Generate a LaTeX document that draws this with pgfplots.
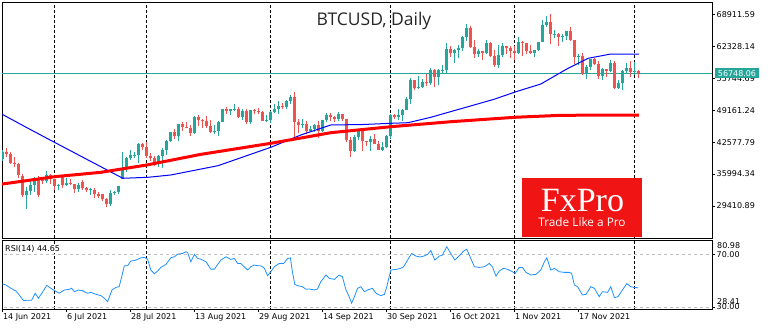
\documentclass[border=0pt]{standalone}
\usepackage{pgfplots}
\pgfplotsset{compat=1.18}
\usepackage{pgfplotstable}
\usepackage{fontspec}
\setmainfont{DejaVu Sans}
\newfontfamily\titlefont{Open Sans}
\newfontfamily\logoserif{Liberation Serif}
\newfontfamily\logosans{Open Sans}
\definecolor{bull}{RGB}{38,166,154}
\definecolor{bear}{RGB}{239,83,80}
\definecolor{maBlue}{RGB}{0,0,255}
\definecolor{maRed}{RGB}{255,0,0}
\definecolor{rsiBlue}{RGB}{30,144,255}
\definecolor{lvlGrey}{RGB}{190,190,190}
\definecolor{logoRed}{RGB}{240,20,20}
\definecolor{priceTeal}{RGB}{38,166,154}

\pgfplotstableread{
i O H L C
0 39000 41000 38700 40500
1 40500 41300 39500 40150
2 40150 40500 38100 38350
3 38350 39500 37400 38100
4 38100 38200 35100 35800
5 35600 36000 31300 31600
6 31600 33300 28800 32500
7 32500 34800 31700 33700
8 33700 35300 32300 34700
9 34700 35500 31300 31600
10 34700 35300 33900 34500
11 34500 36600 34200 35900
12 35900 36100 34000 35000
13 35000 35000 32700 33500
14 33500 33900 32700 33800
15 35300 35300 33100 33700
16 33700 35100 33500 34200
17 34200 35000 33800 33900
18 33900 33900 32100 32900
19 32900 34100 32300 33800
20 34300 34700 32700 33100
21 33100 33300 32200 32700
22 32700 33100 31600 32800
23 32800 33200 31100 31900
24 31900 32300 31000 31400
25 31800 31900 30400 30800
26 30800 31000 29300 29800
27 29800 32800 29500 32100
28 32100 32600 31700 32300
29 32300 33600 31900 33600
30 35000 40500 35000 37300
31 37300 39500 36400 39400
32 39400 40900 38800 40000
33 39900 40600 39200 40000
34 40000 42300 38300 42200
35 42200 42400 41000 41500
36 41500 42600 39400 39800
37 39800 40400 38700 39200
38 39200 39700 37600 38200
39 38200 39900 37500 39700
40 39700 41300 37300 40900
41 40900 43000 39900 42800
42 42800 44700 42500 44600
43 44600 45300 43300 43800
44 43800 46400 42900 46300
45 46300 46700 44900 45600
46 45600 46800 45400 45550
47 45550 46200 43800 44400
48 44400 47900 44200 47800
49 47800 48100 45900 47100
50 47100 47400 45500 47000
51 47000 47900 45500 45900
52 45900 47200 44400 44700
53 44700 46000 44200 44900
54 44900 47000 43900 46800
55 46800 49300 46700 49300
56 49300 49800 48300 48900
57 48900 49500 48100 49300
58 49300 50500 49000 49500
59 49500 49900 47600 47700
60 47700 49300 47100 48900
61 48900 49300 46300 46800
62 46800 49200 46400 49100
63 49100 49300 48300 48900
64 48900 49600 48300 48800
65 48800 48900 46900 47000
66 47000 48200 46700 47100
67 47100 49000 46600 48800
68 48800 50400 48600 49300
69 49300 51000 48400 50000
70 50000 50600 49500 49900
71 49900 51300 49500 51000
72 51000 52300 50500 51800
73 51900 52950 43000 46700
74 46700 47400 44400 46100
75 46100 47400 45500 46400
76 46400 47000 44200 44800
77 44800 45900 44800 45200
78 45200 46400 44700 46100
79 46100 46900 43400 44900
80 44900 47200 44700 47100
81 47100 48500 46700 48100
82 48100 48500 47000 47800
83 47800 48000 46800 47300
84 47300 48800 47000 48300
85 48300 48400 46900 47300
86 47300 47300 42500 43000
87 43000 43600 39600 40700
88 40700 44000 40600 43600
89 43600 44900 43100 44900
90 44900 45000 40700 42800
91 42800 42900 41700 42700
92 42700 43900 40800 43200
93 43200 44300 42200 42200
94 42200 42800 40900 41000
95 41000 42600 40800 41500
96 41500 44100 41400 43800
97 43800 48400 43300 48100
98 48100 48400 47400 47700
99 47700 49300 47100 48200
100 48200 49500 46900 49200
101 49200 51900 49100 51500
102 51500 55700 50400 55300
103 55300 55300 53400 53800
104 53800 56100 53600 54000
105 54000 55500 53700 55000
106 55000 56600 54100 54700
107 54700 57800 54400 57500
108 57500 57700 53900 56000
109 56000 57600 54400 57400
110 57350 58500 56800 57400
111 57400 62900 56900 61700
112 61700 62300 60200 60900
113 60900 61700 58900 61500
114 61500 62600 60000 62000
115 62000 64500 61300 64300
116 64300 67000 63500 66000
117 66000 66600 62000 62200
118 62200 63700 60000 60700
119 60700 61700 60100 61300
120 61300 61400 59600 60900
121 60900 63700 60700 63100
122 63100 63300 60100 60300
123 60300 61500 58000 58500
124 58500 62500 57800 60600
125 60600 62900 60200 62300
126 62300 62300 60700 61900
127 61900 62400 59900 61300
128 61300 62400 59400 61000
129 61000 64300 60700 63200
130 63200 63500 60400 62900
131 62900 63100 60700 61400
132 61400 62600 60800 61000
133 61000 61500 60100 61500
134 61500 63300 61300 63300
135 63300 67800 63300 66800
136 66800 68500 66300 67400
137 67400 69000 62800 64900
138 64800 65600 64100 64950
139 64950 65000 62300 64200
140 64200 64900 63300 64400
141 64400 65500 63600 65500
142 65500 66300 63500 63600
143 63600 63600 58600 60100
144 60100 60700 58400 60400
145 60400 60900 56500 56900
146 56900 58400 55600 58100
147 58100 59800 57400 59700
148 59700 60000 58500 58700
149 58700 59300 55600 56300
150 56300 57900 55300 57600
151 57600 57700 55900 57200
152 57200 59400 57000 58900
153 58900 59200 53500 53700
154 53700 55300 53600 54800
155 54800 57400 53300 57300
156 57300 58900 56700 57800
157 57800 59200 55900 57000
158 57000 59100 56500 57200
159 57200 57400 55800 56750
}\candles

\pgfplotstableread{
i r
0 47.5
0.9 46.7
2.1 44.2
3.4 42.1
4.2 39.1
5.3 34.8
6.3 35.1
7.3 35.1
8.2 40.4
9 36.6
10 41.1
11.1 46.4
12.1 44.2
13.2 42.1
14.2 40.4
15.5 42.9
16.7 43.4
17.3 44.2
18 41.6
19 42.9
20 42.4
21.3 40.4
22.1 41.1
23.4 39.6
24.6 38.6
25.5 36.6
26.3 34.0
27.4 42.9
28.4 44.9
29.2 45.4
30.5 61.4
31.3 61.4
32.1 64.9
33.4 65.7
34.6 67.4
35.5 67.7
36.3 66.4
37.1 58.1
38 55.3
38.8 57.3
39.6 60.1
40.9 62.4
42.1 67.4
43 68.2
43.8 70.2
45 70.7
45.9 72.0
46.3 71.5
47.1 64.4
48 70.0
48.8 66.9
49.6 66.4
50.9 64.4
52.1 58.8
53 58.8
54.6 65.7
55.9 68.2
57.1 66.2
58 66.9
58.8 63.1
59.6 63.1
61.3 58.1
62.1 60.6
62.9 61.9
63.8 61.4
64.6 61.4
65.5 59.4
66.3 53.8
67.1 56.8
68 60.6
69.2 63.1
70.3 63.1
71.3 66.9
72 67.4
72.5 56.8
73.1 47.2
73.8 46.2
75 45.4
75.9 43.4
76.7 43.7
78 42.9
78.8 43.7
79.6 49.2
80.9 54.3
81.7 51.8
83 51.0
84.2 54.3
85 53.0
85.9 42.9
86.7 37.8
87.3 32.8
88 37.8
88.8 44.2
89.6 45.4
90.5 41.6
91.3 42.9
92.5 44.2
93.4 40.4
94.6 38.6
95.5 39.6
96.1 45.4
97.1 58.1
98.4 58.6
99.6 59.4
100.3 60.6
101.3 65.7
102.3 70.7
103.4 68.7
104.5 68.0
105.5 68.9
106.3 70.0
107.1 73.0
108.1 65.7
109.2 68.7
110 69.5
111.1 75.8
112.1 70.7
113.1 65.7
114.2 68.9
115.3 72.5
116.1 74.0
117.1 66.9
118 60.6
119.2 60.1
120.5 60.6
121.7 63.1
122.5 60.6
123.4 53.5
124.2 57.3
125.3 59.4
126.3 58.6
127.5 56.8
128.2 55.6
129.2 60.1
130 60.1
130.9 56.3
132.1 54.3
133.4 54.8
134.6 58.1
135.5 64.4
136.1 67.4
137.1 58.1
138 59.4
139.2 56.8
140.5 56.3
141.7 56.3
142.3 55.6
143 46.7
143.8 45.4
145 39.1
145.9 39.6
147.1 45.4
148 44.2
149.2 37.8
150 41.6
151.3 41.1
152.1 45.4
153 37.1
153.9 37.8
155 42.9
156.1 47.7
157.1 45.4
158.1 44.7
159 44.65
}\rsi

\pgfplotsset{
  mtaxis/.style={
    scale only axis, anchor=south west, width=710bp,
    xmin=-0.1, xmax=177.4,
    scaled ticks=false,
    axis line style={black, line width=0.9bp},
    tick align=outside, major tick length=3bp,
    tick style={black, line width=0.7bp},
    ytick pos=right, yticklabel pos=right,
    tick label style={font=\fontsize{8bp}{9bp}\selectfont, black},
    yticklabel style={anchor=west, inner sep=1.5bp},
    extra x ticks={13,36,67,97,128,158},
    extra x tick labels={},
    extra x tick style={grid=major, major tick length=0pt},
    major grid style={black, line width=0.8bp, dash pattern=on 3bp off 2bp},
  }
}

\begin{document}
\begin{tikzpicture}
\useasboundingbox (0,0) rectangle (770bp,330bp);
% main price panel
\begin{axis}[mtaxis,
  at={(2bp,92bp)}, height=236bp,
  ymin=22813, ymax=71453,
  xtick=\empty,
  ytick={29410.89,35994.34,42577.79,49161.24,55744.69,62328.14,68911.59},
  yticklabels={29410.89,35994.34,42577.79,49161.24,55744.69,62328.14,68911.59},
]
\addplot[priceTeal, line width=0.8bp, forget plot] coordinates {(-1,56748.06) (178,56748.06)};
% wicks
\addplot[bull, line width=1bp, forget plot, quiver={u=0, v=\thisrow{H}-\thisrow{L}}]
  table[x expr={\thisrow{C}>=\thisrow{O} ? \thisrow{i} : nan}, y=L] {\candles};
\addplot[bear, line width=1bp, forget plot, quiver={u=0, v=\thisrow{H}-\thisrow{L}}]
  table[x expr={\thisrow{C}<\thisrow{O} ? \thisrow{i} : nan}, y=L] {\candles};
% bodies
\addplot[bull, line width=3bp, forget plot, quiver={u=0, v={max(\thisrow{C}-\thisrow{O},110)}}]
  table[x expr={\thisrow{C}>=\thisrow{O} ? \thisrow{i} : nan}, y=O] {\candles};
\addplot[bear, line width=3bp, forget plot, quiver={u=0, v={max(\thisrow{O}-\thisrow{C},110)}}]
  table[x expr={\thisrow{C}<\thisrow{O} ? \thisrow{i} : nan}, y=C] {\candles};
% moving averages
\addplot[maBlue, line width=1bp, forget plot] coordinates {
(-0.5,48513) (6,45600) (13.1,42500) (24.6,37510) (30.1,35120) (36.4,35325) (42.1,35800)
(53.9,37716) (67.1,41507) (74.6,44042) (82.1,46102) (90,46200) (97.1,46452) (101.4,46576)
(107.1,47689) (116.4,49873) (122.9,51398) (128.4,52963) (134.6,54550) (141.4,57785)
(146.4,59845) (152.1,60731) (159.1,60731)};
\addplot[maRed, line width=3bp, forget plot] coordinates {
(-0.5,33884) (13.1,35450) (24.6,36350) (36.1,37860) (49.6,40050) (67.1,42330) (82.1,44515)
(97.1,45750) (112.1,46780) (128.1,47690) (139.6,48100) (159.1,48160)};
\end{axis}
% RSI panel
\begin{axis}[mtaxis,
  at={(2bp,21bp)}, height=69bp,
  ymin=28.41, ymax=80.98,
  xtick={0,16,...,144},
  xticklabels={14 Jun 2021,6 Jul 2021,28 Jul 2021,13 Aug 2021,29 Aug 2021,14 Sep 2021,30 Sep 2021,16 Oct 2021,1 Nov 2021,17 Nov 2021},
  xtick pos=bottom, xticklabel pos=bottom,
  xticklabel style={anchor=north west, inner sep=1bp, xshift=-0.5bp},
  ytick={30,70}, yticklabels={30.00,70.00},
]
\addplot[lvlGrey, line width=0.7bp, dash pattern=on 3bp off 3bp, forget plot] coordinates {(-1,70) (178,70)};
\addplot[lvlGrey, line width=0.7bp, dash pattern=on 3bp off 3bp, forget plot] coordinates {(-1,30) (178,30)};
\addplot[rsiBlue, line width=0.8bp, forget plot] table[x=i, y=r] {\rsi};
\node[anchor=north west, fill=white, inner sep=1bp, font=\fontsize{8bp}{9bp}\selectfont]
  at (rel axis cs:0,1) [xshift=2bp, yshift=-4bp] {RSI(14) 44.65};
\end{axis}
% RSI scale extremes
\node[anchor=north west, inner sep=1bp, font=\fontsize{8bp}{9bp}\selectfont] at (716bp,89bp) {80.98};
\node[anchor=south west, inner sep=1bp, font=\fontsize{8bp}{9bp}\selectfont] at (716bp,24bp) {28.41};
% current price label
\fill[priceTeal] (715bp,251.7bp) rectangle (759bp,261.7bp);
\node[white, inner sep=0pt, font=\fontsize{8bp}{9bp}\selectfont] at (737bp,256.7bp) {56748.06};
% title
\node[anchor=base, inner sep=0pt, font=\titlefont\fontsize{17.5bp}{20bp}\selectfont, text=black!85] at (374bp,304bp) {BTCUSD, Daily};
% logo
\fill[logoRed] (522bp,93bp) rectangle (642bp,152bp);
\node[anchor=base, white, inner sep=0pt, font=\logoserif\fontsize{34bp}{35bp}\selectfont] at (582.5bp,118.8bp) {FxPro};
\node[anchor=base, white, inner sep=0pt, font=\logosans\fontsize{11.8bp}{13bp}\selectfont] at (582bp,103.3bp) {Trade Like a Pro};
\end{tikzpicture}
\end{document}
